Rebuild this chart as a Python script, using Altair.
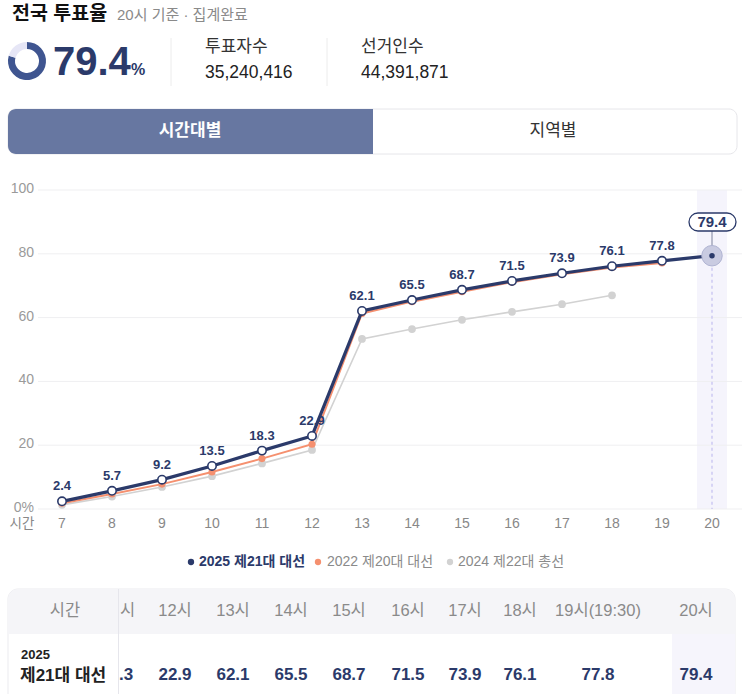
import altair as alt
import pandas as pd

# ---------------- data ----------------
hours = list(range(7, 21))
turnout_2025 = [2.4, 5.7, 9.2, 13.5, 18.3, 22.9, 62.1, 65.5, 68.7, 71.5, 73.9, 76.1, 77.8, 79.4]
turnout_2022 = [1.8, 4.7, 7.8, 11.6, 15.8, 20.3, 61.3, 65.0, 68.1, 71.1, 73.6, 75.7, 77.1]
turnout_2024 = [1.3, 3.9, 6.9, 10.3, 14.3, 18.5, 53.3, 56.4, 59.3, 61.8, 64.2, 67.0]
series_names = ["2025 제21대 대선", "2022 제20대 대선", "2024 제22대 총선"]
y_ticks = [0, 20, 40, 60, 80, 100]

final_rate = 79.4
voters = "35,240,416"
electors = "44,391,871"

# table (scrolled: first visible column is cut off, showing only "시" and ".3")
table_cut_col = "시"
table_cut_val = ".3"
table_cols = ["12시", "13시", "14시", "15시", "16시", "17시", "18시", "19시(19:30)", "20시"]
table_vals = ["22.9", "62.1", "65.5", "68.7", "71.5", "73.9", "76.1", "77.8", "79.4"]

# ---------------- style ----------------
FONT = "Liberation Sans, Noto Sans CJK KR, sans-serif"
NAVY = "#2b3a6a"
ORANGE = "#f5906f"
GRAY = "#d2d2d2"
col_x = [175, 233, 291, 349, 408, 465, 520, 598, 696]  # table column centres (layout)

xs = alt.Scale(domain=[7, 20], range=[62, 712], nice=False, zero=False)
ys = alt.Scale(domain=[0, 100], range=[509, 190], nice=False, zero=False)

df25 = pd.DataFrame({"hour": hours, "v": turnout_2025})
df22 = pd.DataFrame({"hour": hours[:len(turnout_2022)], "v": turnout_2022})
df24 = pd.DataFrame({"hour": hours[:len(turnout_2024)], "v": turnout_2024})
last = df25[df25.hour == 20]
rest25 = df25[df25.hour < 20]

one = pd.DataFrame({"k": [0]})


def vtext(txt, x, y, size=14, color="#333", weight="normal", align="left", base="middle"):
    return alt.Chart(one).mark_text(
        text=txt, font=FONT, fontSize=size, color=color, fontWeight=weight,
        align=align, baseline=base
    ).encode(x=alt.value(x), y=alt.value(y))


def vrect(x, x2, y, y2, fill, stroke=None, **kw):
    props = dict(fill=fill)
    if stroke:
        props.update(stroke=stroke, strokeWidth=1)
    props.update(kw)
    return alt.Chart(one).mark_rect(**props).encode(
        x=alt.value(x), x2=alt.value(x2), y=alt.value(y), y2=alt.value(y2))


X = lambda: alt.X("hour:Q", scale=xs, axis=None)
Y = lambda: alt.Y("v:Q", scale=ys, axis=None)

layers = []

# ---------- header ----------
layers.append(vtext("전국 투표율", 12, 14, size=19.5, color="#111", weight="bold"))
layers.append(vtext("20시 기준 · 집계완료", 117, 15, size=15, color="#8a8a8a"))

donut = pd.DataFrame({"part": ["done", "rest"], "v": [final_rate, 100 - final_rate], "o": [0, 1]})
layers.append(
    alt.Chart(donut).mark_arc(innerRadius=12, outerRadius=19).encode(
        theta=alt.Theta("v:Q", stack=True),
        order=alt.Order("o:Q"),
        color=alt.Color("part:N", scale=alt.Scale(domain=["done", "rest"], range=["#3f5590", "#e6e6f6"]), legend=None),
        x=alt.value(27), y=alt.value(61),
    )
)
layers.append(
    alt.Chart(pd.DataFrame({"r": [final_rate]})).mark_text(
        font=FONT, fontSize=40, fontWeight="bold", color=NAVY, align="left", baseline="alphabetic"
    ).encode(text=alt.Text("r:Q", format=".1f"), x=alt.value(53), y=alt.value(75))
)
layers.append(vtext("%", 131, 75, size=16, color=NAVY, weight="bold", base="alphabetic"))

for sx in [171, 327]:
    layers.append(alt.Chart(one).mark_rule(color="#ececec", strokeWidth=1).encode(
        x=alt.value(sx), y=alt.value(38), y2=alt.value(86)))
layers.append(vtext("투표자수", 205, 47, size=17, color="#333"))
layers.append(vtext(voters, 205, 73, size=17.5, color="#222"))
layers.append(vtext("선거인수", 361, 47, size=17, color="#333"))
layers.append(vtext(electors, 361, 73, size=17.5, color="#222"))

# ---------- tabs ----------
layers.append(vrect(8, 737, 109, 154, "white", stroke="#e6e6ea", cornerRadius=8))
layers.append(vrect(8, 373, 109, 154, "#6777a1", cornerRadiusTopLeft=8, cornerRadiusBottomLeft=8))
layers.append(vtext("시간대별", 190, 131, size=17, color="white", weight="bold", align="center"))
layers.append(vtext("지역별", 553, 131, size=17, color="#333", align="center"))

# ---------- line chart ----------
layers.append(vrect(697, 727, 190, 509, "#f5f4fc"))

ticks_df = pd.DataFrame({"t": y_ticks, "lab": [("0%" if t == 0 else str(t)) for t in y_ticks]})
layers.append(
    alt.Chart(ticks_df).mark_rule(color="#efeff1", strokeWidth=1).encode(
        y=alt.Y("t:Q", scale=ys, axis=None), x=alt.value(38), x2=alt.value(742))
)
layers.append(
    alt.Chart(ticks_df).mark_text(font=FONT, fontSize=14, color="#9a9a9a", align="right", baseline="middle", dy=-1).encode(
        y=alt.Y("t:Q", scale=ys, axis=None), x=alt.value(34), text="lab:N")
)
layers.append(
    alt.Chart(pd.DataFrame({"hour": hours})).mark_text(font=FONT, fontSize=14, color="#888", align="center", baseline="middle").encode(
        x=X(), y=alt.value(524), text="hour:N")
)
layers.append(vtext("시간", 22, 524, size=13.5, color="#888", align="center"))

# dashed guide at 20h
layers.append(
    alt.Chart(last).mark_rule(color="#c3bff0", strokeWidth=1.2, strokeDash=[3, 3]).encode(
        x=X(), y=Y(), y2=alt.datum(0))
)

# 2024
layers.append(alt.Chart(df24).mark_line(color=GRAY, strokeWidth=1.6).encode(x=X(), y=Y()))
layers.append(alt.Chart(df24).mark_circle(color=GRAY, size=60, opacity=1).encode(x=X(), y=Y()))
# 2022
layers.append(alt.Chart(df22).mark_line(color=ORANGE, strokeWidth=2).encode(x=X(), y=Y()))
layers.append(alt.Chart(df22).mark_circle(color=ORANGE, size=50, opacity=1).encode(x=X(), y=Y()))
# 2025
layers.append(alt.Chart(df25).mark_line(color=NAVY, strokeWidth=3.2).encode(x=X(), y=Y()))
layers.append(alt.Chart(rest25).mark_point(filled=True, fill="white", stroke=NAVY, strokeWidth=1.6, size=70,
                                           opacity=1, shape="circle").encode(x=X(), y=Y()))
layers.append(alt.Chart(rest25).mark_text(font=FONT, fontSize=13, fontWeight="bold", color=NAVY, dy=-15,
                                          baseline="middle").encode(
    x=X(), y=Y(), text=alt.Text("v:Q", format=".1f")))

# highlighted final point
layers.append(alt.Chart(last).mark_rule(color="#7d829c", strokeWidth=1).encode(
    x=X(), y=Y(), y2=alt.value(231)))
layers.append(alt.Chart(last).mark_point(filled=True, fill="#c9cbe1", stroke="#b0b4d2", strokeWidth=1, size=420,
                                         opacity=1, shape="circle").encode(x=X(), y=Y()))
layers.append(alt.Chart(last).mark_circle(color=NAVY, size=30, opacity=1).encode(x=X(), y=Y()))
layers.append(vrect(689, 736, 213, 231, "white", stroke=NAVY, cornerRadius=9, strokeWidth=1.3))
layers.append(alt.Chart(last).mark_text(font=FONT, fontSize=15, fontWeight="bold", color=NAVY, baseline="middle").encode(
    x=X(), y=alt.value(222), text=alt.Text("v:Q", format=".1f")))

# ---------- legend ----------
leg = [(191, NAVY, 199, series_names[0], NAVY, "bold"),
       (318, ORANGE, 327, series_names[1], "#8a8a8a", "normal"),
       (450, GRAY, 458, series_names[2], "#8a8a8a", "normal")]
for dx, dc, tx, name, tc, w in leg:
    layers.append(alt.Chart(one).mark_circle(color=dc, size=40, opacity=1).encode(x=alt.value(dx), y=alt.value(562)))
    layers.append(vtext(name, tx, 562, size=14, color=tc, weight=w))

# ---------- table ----------
layers.append(vrect(8, 735, 589, 710, "white", stroke="#ebebef", cornerRadius=10))
layers.append(vrect(8, 735, 589, 634, "#f5f5f8", cornerRadiusTopLeft=10, cornerRadiusTopRight=10))
layers.append(vrect(672, 735, 634, 694, "#f6f5fc"))
layers.append(alt.Chart(one).mark_rule(color="#e6e6ec", strokeWidth=1).encode(
    x=alt.value(118.5), y=alt.value(589), y2=alt.value(694)))

tdf = pd.DataFrame({"col": table_cols, "val": table_vals, "cx": col_x})
layers.append(alt.Chart(tdf).mark_text(font=FONT, fontSize=16.5, color="#8a8a8a", baseline="middle").encode(
    x=alt.X("cx:Q", scale=None), y=alt.value(611), text="col:N"))
layers.append(alt.Chart(tdf).mark_text(font=FONT, fontSize=17, fontWeight="bold", color=NAVY, baseline="middle").encode(
    x=alt.X("cx:Q", scale=None), y=alt.value(675), text="val:N"))
layers.append(vtext(table_cut_col, 120, 611, size=16.5, color="#8a8a8a"))
layers.append(vtext(table_cut_val, 119, 675, size=17, color=NAVY, weight="bold"))

layers.append(vtext("시간", 65, 611, size=16.5, color="#8a8a8a", align="center"))
layers.append(vtext("2025", 21, 655, size=13, color="#222", weight="bold"))
layers.append(vtext("제21대 대선", 20, 676, size=17, color="#222", weight="bold"))

chart = alt.layer(*layers).resolve_scale(x="independent", y="independent", color="independent").properties(
    width=743, height=694, padding=0, autosize="none", background="white"
).configure_view(stroke=None)

chart.save("out.html", embed_options={"renderer": "svg", "actions": False})
